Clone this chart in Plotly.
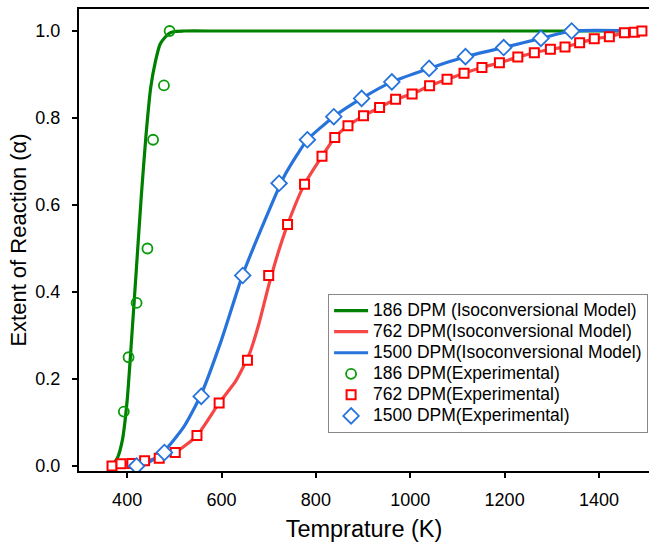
import plotly.graph_objects as go

# ---- Experimental data ----
exp186_T = [393, 403, 420, 443, 455, 478, 490]
exp186_a = [0.125, 0.25, 0.375, 0.5, 0.75, 0.875, 1.0]

exp762_T = [368, 387, 410, 437, 468, 502, 548, 595, 655, 700, 740, 776, 813, 840, 868,
            901, 935, 969, 1004, 1041, 1078, 1114, 1152, 1189, 1228, 1263, 1297, 1328,
            1359, 1390, 1422, 1454, 1475, 1491]
exp762_a = [0.0, 0.005, 0.006, 0.012, 0.018, 0.031, 0.07, 0.145, 0.243, 0.438, 0.555, 0.648,
            0.712, 0.755, 0.782, 0.805, 0.824, 0.843, 0.855, 0.874, 0.889, 0.903, 0.916,
            0.927, 0.94, 0.95, 0.958, 0.963, 0.973, 0.982, 0.987, 0.996, 0.997, 1.0]

exp1500_T = [420, 479, 557, 645, 722, 782, 838, 897, 961, 1040, 1117, 1198, 1277, 1342]
exp1500_a = [0.0, 0.031, 0.16, 0.438, 0.65, 0.75, 0.803, 0.845, 0.883, 0.914, 0.941, 0.962, 0.983, 1.0]

# ---- Isoconversional model curves ----
mod186_T = [368, 380, 390, 400, 410, 420, 430, 440, 450, 460, 470, 480, 490, 500, 520, 600, 1500]
mod186_a = [0.0, 0.02, 0.06, 0.15, 0.3, 0.46, 0.62, 0.76, 0.87, 0.93, 0.97, 0.985, 0.995, 0.999, 1.0, 1.0, 1.0]

mod762_T = [365, 387, 410, 437, 468, 502, 548, 595, 630, 660, 680, 700, 720, 740, 776, 813, 840, 868,
            901, 935, 969, 1004, 1041, 1078, 1114, 1152, 1189, 1228, 1263, 1297, 1328,
            1359, 1390, 1422, 1454, 1475, 1500]
mod762_a = [0.0, 0.005, 0.006, 0.012, 0.018, 0.031, 0.07, 0.145, 0.195, 0.26, 0.33, 0.415, 0.49, 0.555, 0.648,
            0.712, 0.755, 0.782, 0.805, 0.824, 0.843, 0.855, 0.874, 0.889, 0.903, 0.916,
            0.927, 0.94, 0.95, 0.958, 0.963, 0.973, 0.982, 0.987, 0.996, 0.997, 1.0]

mod1500_T = [420, 445, 479, 520, 557, 600, 645, 690, 730, 760, 782, 838, 897, 961, 1040,
             1117, 1198, 1277, 1342, 1500]
mod1500_a = [0.0, 0.008, 0.035, 0.09, 0.165, 0.29, 0.44, 0.56, 0.66, 0.715, 0.75, 0.803,
             0.845, 0.883, 0.914, 0.941, 0.962, 0.983, 1.0, 1.0]

series_names = ["186 DPM (Isoconversional Model)", "762 DPM(Isoconversional Model)",
                "1500 DPM(Isoconversional Model)", "186 DPM(Experimental)",
                "762 DPM(Experimental)", "1500 DPM(Experimental)"]

GREEN = "#008000"
RED_L = "rgba(245,55,55,0.92)"
BLUE_L = "#2673dc"


def leg(name):
    return "<span style='font-size:17.5px'>" + name + "</span>"


fig = go.Figure()
fig.add_trace(go.Scatter(x=mod186_T, y=mod186_a, mode="lines",
                         line=dict(color=GREEN, width=3.2, shape="spline", smoothing=0.6),
                         name=leg(series_names[0])))
fig.add_trace(go.Scatter(x=mod762_T, y=mod762_a, mode="lines",
                         line=dict(color=RED_L, width=3.2, shape="spline", smoothing=0.6),
                         name=leg(series_names[1])))
fig.add_trace(go.Scatter(x=mod1500_T, y=mod1500_a, mode="lines",
                         line=dict(color=BLUE_L, width=3.2, shape="spline", smoothing=0.6),
                         name=leg(series_names[2])))
fig.add_trace(go.Scatter(x=exp186_T, y=exp186_a, mode="markers",
                         marker=dict(symbol="circle-open", size=10, color="#0a9a0a", line=dict(width=1.8)),
                         name=leg(series_names[3])))
fig.add_trace(go.Scatter(x=exp762_T, y=exp762_a, mode="markers",
                         marker=dict(symbol="square", size=9, color="white", line=dict(color="#ff0000", width=2)),
                         name=leg(series_names[4])))
fig.add_trace(go.Scatter(x=exp1500_T, y=exp1500_a, mode="markers",
                         marker=dict(symbol="diamond", size=12, color="white", line=dict(color="#2673dc", width=1.8)),
                         name=leg(series_names[5])))

font_family = "Liberation Sans, Arial, sans-serif"
fig.update_layout(
    width=649, height=545,
    margin=dict(l=79, r=0, t=9, b=74, autoexpand=False),
    paper_bgcolor="white", plot_bgcolor="white",
    font=dict(family=font_family, color="black", size=18),
    showlegend=True,
    legend=dict(x=0.437, y=0.383, xanchor="left", yanchor="top",
                bordercolor="#888888", borderwidth=1, bgcolor="white",
                itemwidth=34,
                font=dict(size=13.9, family=font_family), tracegroupgap=0),
    xaxis=dict(range=[298, 1506], tickvals=[400, 600, 800, 1000, 1200, 1400],
               automargin=False,
               showgrid=False, zeroline=False, showline=True, linecolor="black", linewidth=2,
               mirror=True, ticks="outside", ticklen=5, tickwidth=1.5, tickcolor="black",
               tickfont=dict(size=18), ticklabelstandoff=6,
               title=dict(text="Temprature (K)", font=dict(size=23.5), standoff=12)),
    yaxis=dict(range=[-0.0115, 1.0506], tickvals=[0, 0.2, 0.4, 0.6, 0.8, 1.0], tickformat=".1f",
               automargin=False,
               showgrid=False, zeroline=False, showline=True, linecolor="black", linewidth=2,
               mirror=False, ticks="outside", ticklen=5, tickwidth=1.5, tickcolor="black",
               tickfont=dict(size=18), ticklabelstandoff=8,
               title=dict(text="Extent of Reaction (α)", font=dict(size=22), standoff=3)),
)

fig.write_html("out.html", config={"displayModeBar": False},
               post_script="document.body.style.margin='0';")
